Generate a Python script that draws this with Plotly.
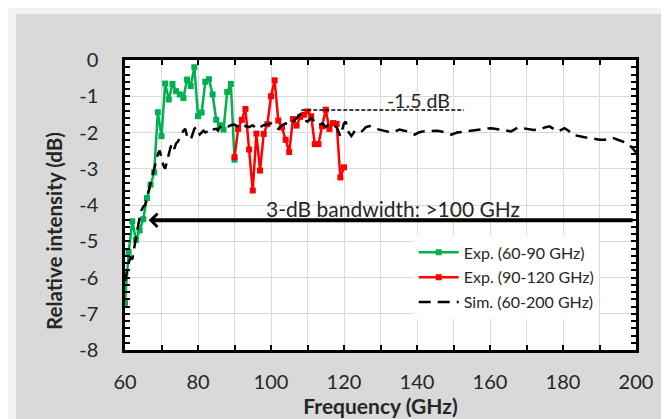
import plotly.graph_objects as go

# ---------------- data ----------------
green_x = list(range(60, 91))
green_y = [-6.7, -5.3, -4.45, -4.96, -4.7, -4.39, -3.81, -3.44, -3.1, -1.44, -2.1,
           -0.65, -1.09, -0.66, -0.86, -0.95, -1.05, -0.54, -0.72, -0.2, -1.55,
           -1.45, -0.6, -0.53, -0.95, -1.65, -1.8, -1.92, -0.88, -0.66, -2.75]

red_x = list(range(90, 121))
red_y = [-2.68, -1.9, -1.65, -1.35, -2.47, -3.6, -2.03, -3.05, -2.04, -1.77, -1.0,
         -0.56, -1.67, -1.86, -2.2, -2.54, -1.63, -1.81, -1.57, -1.51, -1.42,
         -1.55, -2.32, -2.32, -1.83, -1.37, -1.9, -1.74, -1.76, -3.24, -2.96]

sim_x = [60, 60.5, 61, 61.5, 62, 62.5, 63, 63.5, 64, 64.5, 65, 65.5, 66, 66.5, 67, 67.5,
         68, 68.5, 69, 69.5, 70, 70.5, 71, 71.5, 72, 72.5, 73, 73.5, 74, 74.5, 75, 75.5,
         76, 76.5, 77, 77.5, 78, 78.5, 79, 79.5, 80, 80.5, 81, 81.5, 82, 83, 83.5, 84,
         85, 85.5, 86, 87, 88, 89, 90, 91, 92, 93, 94, 95, 96, 97, 98, 99, 100, 101,
         102, 103, 104, 105, 106, 107, 108, 109, 110, 111, 112, 113, 114, 115, 116,
         117, 118, 119, 120, 120.5, 121, 122, 123, 124, 125, 126, 127, 128, 129, 130,
         131.5, 133, 134, 135.2, 136.5, 137.5, 138.5, 139.4, 140.5, 141.6, 143, 144.4,
         145.5, 146.7, 148, 149.4, 151, 153, 155, 156.7, 158.5, 160.4, 161.7, 163,
         164.5, 165.8, 167.7, 169, 170.4, 172, 173.6, 175, 176.3, 177.5, 178.6, 180.4,
         181.5, 182.5, 184, 185.9, 187.3, 188.7, 190, 191.4, 192.5, 193.7, 195, 196,
         197.8, 199.2, 200]
sim_y = [-6.1, -5.8, -5.6, -5.45, -5.5, -5.2, -4.9, -4.6, -4.35, -4.15, -4.05, -4.0,
         -3.8, -3.6, -3.4, -3.2, -3.0, -2.85, -2.6, -2.5, -2.75, -2.9, -3.0, -2.8,
         -2.55, -2.4, -2.3, -2.45, -2.3, -2.25, -2.15, -2.05, -1.95, -1.9, -2.1,
         -2.15, -2.2, -2.05, -1.9, -1.85, -1.95, -2.05, -2.0, -1.95, -2.0, -1.95,
         -1.88, -1.92, -1.9, -1.95, -1.85, -1.8, -1.85, -1.8, -1.78, -1.85, -1.9,
         -1.82, -1.85, -1.8, -1.9, -1.85, -1.8, -1.78, -1.75, -1.82, -1.9, -1.8,
         -1.75, -1.8, -1.7, -1.6, -1.5, -1.65, -1.7, -1.6, -1.7, -1.8, -1.75, -1.85,
         -1.75, -1.8, -1.85, -2.1, -1.75, -1.7, -1.95, -2.1, -1.95, -2.0, -1.96,
         -1.85, -1.82, -1.88, -1.9, -1.92, -1.96, -2.0, -1.97, -1.92, -1.95, -1.97,
         -2.02, -2.06, -2.0, -1.97, -1.96, -1.95, -1.95, -1.97, -2.02, -2.06, -2.0,
         -1.97, -1.95, -1.92, -1.9, -1.88, -1.9, -1.92, -1.95, -1.97, -1.86, -1.88,
         -1.92, -1.93, -1.92, -1.86, -1.83, -1.9, -1.97, -1.88, -1.95, -2.06, -2.1,
         -2.13, -2.15, -2.18, -2.2, -2.2, -2.18, -2.15, -2.2, -2.24, -2.3, -2.45, -2.55]

ref_level_x = [108.3, 152.9]
ref_level_y = [-1.38, -1.38]

y_tick_vals = [0, -1, -2, -3, -4, -5, -6, -7, -8]
y_tick_text = ["0", "-1", "-2", "-3", "-4", "-5", "-6", "-7", "-8"]

FONT = "Lato"
TXT = "#262626"

fig = go.Figure()
fig.add_trace(go.Scatter(x=green_x, y=green_y, mode="lines+markers",
                         name="Exp. (60-90 GHz)", legendgroup="g1",
                         line=dict(color="#00B050", width=2.5),
                         marker=dict(symbol="square", size=6, color="#00B050")))
fig.add_trace(go.Scatter(x=red_x, y=red_y, mode="lines+markers",
                         name="Exp. (90-120 GHz)", legendgroup="g2",
                         line=dict(color="#FF0000", width=2.5),
                         marker=dict(symbol="square", size=6, color="#FF0000")))
fig.add_trace(go.Scatter(x=sim_x, y=sim_y, mode="lines",
                         name="Sim. (60-200 GHz)", legendgroup="g3",
                         line=dict(color="black", width=2.5, dash="12px,7px")))
fig.add_trace(go.Scatter(x=ref_level_x, y=ref_level_y, mode="lines", showlegend=False,
                         line=dict(color="black", width=1.5, dash="4px,2px"),
                         hoverinfo="skip"))

fig.update_xaxes(range=[60, 200], tickmode="linear", tick0=60, dtick=20,
                 showline=True, linecolor="black", linewidth=2.5, mirror="ticks",
                 ticks="inside", ticklen=5, tickcolor="black", tickwidth=1.5,
                 showgrid=True, gridcolor="#D9D9D9", gridwidth=1, zeroline=False,
                 minor=dict(tickmode="linear", tick0=60, dtick=10, ticks="inside",
                            ticklen=5, tickcolor="black", tickwidth=1.5,
                            showgrid=True, gridcolor="#D9D9D9", gridwidth=1),
                 tickfont=dict(family=FONT, size=20, color=TXT),
                 ticklabelstandoff=12, automargin=False,
                 title=dict(text="<b>Frequency (GHz)</b>",
                            font=dict(family=FONT, size=21, color=TXT),
                            standoff=4))

# main y axis: grid + labels
fig.update_layout(yaxis=dict(
    range=[-8, 0], tickmode="array", tickvals=y_tick_vals, ticktext=y_tick_text,
    showline=True, linecolor="black", linewidth=2.5, mirror=True,
    ticks="", showgrid=True, gridcolor="#D9D9D9", gridwidth=1, zeroline=False,
    tickfont=dict(family=FONT, size=20, color=TXT), ticklabelstandoff=20,
    automargin=False))
# overlay y axis: minor ticks every 0.2 dB on both sides
fig.update_layout(yaxis2=dict(
    overlaying="y", side="left", range=[-8, 0], tickmode="linear", tick0=0, dtick=0.2,
    ticks="inside", ticklen=5, tickcolor="black", tickwidth=1.5, mirror="ticks",
    showline=False, showgrid=False, zeroline=False, showticklabels=False,
    automargin=False))
fig.add_trace(go.Scatter(x=[60, 200], y=[0, -8], yaxis="y2", mode="markers",
                         marker=dict(opacity=0), showlegend=False, hoverinfo="skip"))

# y-axis title (placed as in the reference, slightly below the plot centre)
fig.add_annotation(x=(46 - 117) / 511, y=(342 - 223) / 290, xref="paper", yref="paper",
                   text="<b>Relative intensity (dB)</b>", textangle=-90,
                   showarrow=False, xanchor="center", yanchor="middle",
                   font=dict(family=FONT, size=20.5, color=TXT))

fig.add_annotation(x=66.5, y=-4.42, ax=199.5, ay=-4.42, xref="x", yref="y",
                   axref="x", ayref="y", showarrow=True, arrowhead=4,
                   arrowsize=0.65, arrowwidth=4, arrowcolor="black", text="")
fig.add_annotation(x=133.4, y=-4.1, xref="x", yref="y", showarrow=False,
                   text="3-dB bandwidth: >100 GHz",
                   font=dict(family=FONT, size=21, color=TXT))
fig.add_annotation(x=140.3, y=-1.13, xref="x", yref="y", showarrow=False,
                   text="-1.5 dB",
                   font=dict(family=FONT, size=19.5, color=TXT))

# light strips on the top and left edges of the figure
fig.add_shape(type="rect", xref="paper", yref="paper", x0=-0.3, x1=1.2,
              y0=(342 - 6) / 290, y1=1.3, fillcolor="#F2F2F2", line_width=0, layer="above")
fig.add_shape(type="rect", xref="paper", yref="paper", x0=-0.3, x1=(8 - 117) / 511,
              y0=-0.4, y1=1.3, fillcolor="#F2F2F2", line_width=0, layer="above")

fig.update_layout(
    width=669, height=419,
    margin=dict(l=117, r=41, t=52, b=77),
    paper_bgcolor="#D9D9D9", plot_bgcolor="white",
    showlegend=True,
    legend=dict(x=0.565, y=0.395, xanchor="left", yanchor="top",
                bgcolor="white", borderwidth=0, itemwidth=40,
                font=dict(family=FONT, size=16, color=TXT),
                tracegroupgap=1),
)

fig.write_html("out.html")
